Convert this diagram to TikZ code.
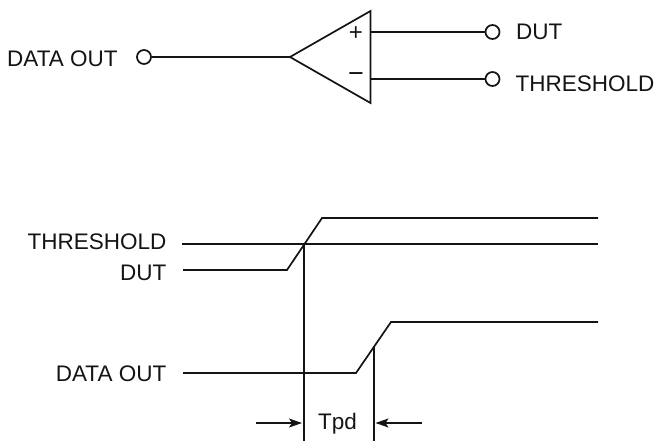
\documentclass[tikz,border=0pt]{standalone}
\usepackage{fontspec}
\setmainfont{Liberation Sans}
\usetikzlibrary{arrows.meta}
\tikzset{
  wire/.style={line width=1.7pt,black!92},
  term/.style={circle,draw=black!92,line width=1.7pt,fill=white,minimum size=14pt,inner sep=0pt},
  lbl/.style={font=\fontsize{22.5}{24}\selectfont,inner sep=0pt,text=black!92},
  dim/.style={wire,-{Stealth[length=13pt,width=9pt,inset=3pt]}}
}
\begin{document}
\begin{tikzpicture}[x=1pt,y=-1pt]
\useasboundingbox (0,0) rectangle (658,441);
% comparator
\coordinate (apex) at (290,57);
\coordinate (tt) at (370.5,11);
\coordinate (tb) at (370.5,103);
\draw[wire,line join=miter] (apex) -- (tt) -- (tb) -- cycle;
\node[term] (c1) at (144,57) {};
\node[term] (c2) at (492.5,32) {};
\node[term] (c3) at (492.5,79) {};
\coordinate (ip) at (370.5,32);
\coordinate (im) at (370.5,79);
\draw[wire] (c1) -- (apex);
\draw[wire] (ip) -- (c2);
\draw[wire] (im) -- (c3);
\node[lbl,anchor=center,font=\fontsize{24}{24}\selectfont] (plus) at (356,33.5) {+};
\node[lbl,anchor=center,font=\fontsize{27}{27}\selectfont] (minus) at (356,78) {−};
\node[lbl,anchor=base west] (l1) at (7,66.7) {DATA OUT};
\node[lbl,anchor=base west] (l2) at (516,40) {DUT};
\node[lbl,anchor=base west] (l3) at (515.5,91.7) {THRESHOLD};
% timing
\node[lbl,anchor=base east] (t1) at (166.5,249.3) {THRESHOLD};
\node[lbl,anchor=base east] (t2) at (166.5,280) {DUT};
\node[lbl,anchor=base east] (t3) at (166.5,381) {DATA OUT};
\coordinate (a1) at (182,244); \coordinate (a2) at (598,244);
\draw[wire] (a1) -- (a2);
\coordinate (b1) at (183,270); \coordinate (b2) at (287,270); \coordinate (b3) at (322,218); \coordinate (b4) at (598,218);
\draw[wire] (b1) -- (b2) -- (b3) -- (b4);
\coordinate (d1) at (183,373); \coordinate (d2) at (356,373); \coordinate (d3) at (391,322); \coordinate (d4) at (598,322);
\draw[wire] (d1) -- (d2) -- (d3) -- (d4);
\coordinate (v1) at (304,244); \coordinate (v1b) at (304,441);
\coordinate (v2) at (374,346); \coordinate (v2b) at (374,441);
\draw[wire] (v1) -- (v1b);
\draw[wire] (v2) -- (v2b);
\coordinate (ar1) at (256,423); \coordinate (ar1e) at (302,423);
\coordinate (ar2) at (422,423); \coordinate (ar2e) at (375.5,423);
\draw[dim] (ar1) -- (ar1e);
\draw[dim] (ar2) -- (ar2e);
\node[lbl,anchor=base] (tpd) at (337.5,429) {Tpd};
\end{tikzpicture}
\end{document}
